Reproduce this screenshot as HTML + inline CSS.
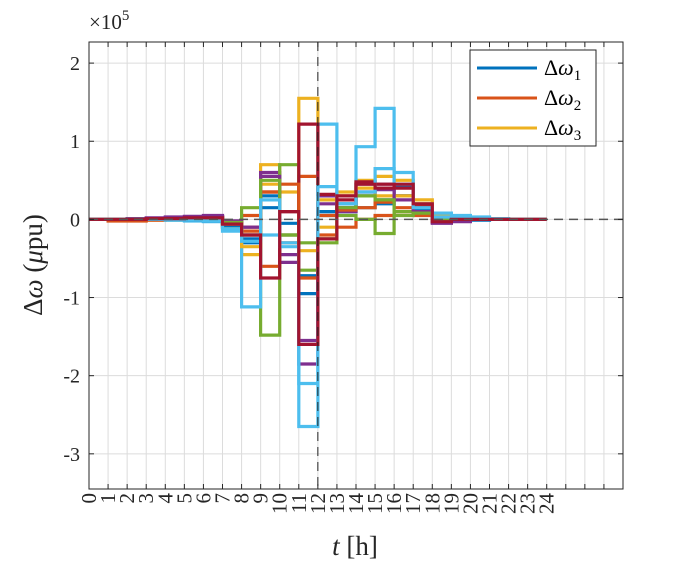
<!DOCTYPE html>
<html><head><meta charset="utf-8"><style>
body{margin:0;background:#fff;}
svg{display:block;font-family:"Liberation Serif","DejaVu Serif",serif;}
</style></head><body>
<svg id="chart" width="688" height="563"></svg>
<script>
const hours = [0,1,2,3,4,5,6,7,8,9,10,11,12,13,14,15,16,17,18,19,20,21,22,23];
const yTicks = [-3,-2,-1,0,1,2];
const yTickLabels = ["-3","-2","-1","0","1","2"];
const xTicks = [0,1,2,3,4,5,6,7,8,9,10,11,12,13,14,15,16,17,18,19,20,21,22,23,24,25,26,27,28];
const xTickLabels = ["0","1","2","3","4","5","6","7","8","9","10","11","12","13","14","15","16","17","18","19","20","21","22","23","24"];
const seriesColors = ["#0072BD","#D95319","#EDB120","#7E2F8E","#77AC30","#4DBEEE","#A2142F","#0072BD","#D95319","#EDB120","#7E2F8E","#77AC30","#4DBEEE","#A2142F"];
const s1 = [0,0,0,0.01,0.02,0.02,0.03,-0.1,-0.3,0.15,-0.05,-0.72,0.05,0.1,0.3,0.2,0.42,0.15,0,-0.02,-0.01,0,0,0];
const s2 = [0,-0.01,-0.01,0,0.01,0.02,0.03,-0.05,0.05,-0.6,-0.3,0.55,-0.2,-0.1,0,0.05,0.1,0.05,0,0,0,0,0,0];
const s3 = [0,0,0,-0.01,-0.01,0,0.01,-0.1,-0.45,0.7,0.35,1.55,-0.1,0.35,0.5,0.55,0.5,0.25,0.05,0.03,0.02,0.01,0,0];
const s4 = [0,0,0.01,0.02,0.03,0.04,0.05,-0.02,-0.2,0.6,-0.45,-1.85,0.3,0.1,0.45,0.45,0.3,0.15,-0.05,-0.03,0,0,0,0];
const s5 = [0,0,0,0,0.01,0.01,0.02,-0.05,0.15,-1.48,0.7,-0.3,-0.3,0.05,0,-0.18,0.1,0.1,0,0,0,0,0,0];
const s6 = [0,0,0,0,-0.01,-0.02,-0.03,-0.15,-1.12,-0.2,-0.3,-2.65,1.22,0.15,0.93,1.42,0.6,0.2,0.08,0.05,0.03,0.01,0,0];
const s7 = [0,0,0,0.01,0.01,0.02,0.03,-0.05,-0.1,0.35,0.1,1.22,0.32,0.25,0.48,0.45,0.4,0.18,-0.02,0,0,0,0,0];
const s8 = [0,0,0,0,0,-0.01,-0.02,-0.08,-0.25,0.3,-0.2,-0.95,0.1,0.2,0.15,0.25,0.3,0.12,0,0,0,0,0,0];
const s9 = [0,-0.02,-0.02,-0.01,0,0.01,0.02,-0.03,-0.15,0.35,0.45,-0.75,0.05,0.12,0.15,0.22,0.15,0.1,0.02,0,0,0,0,0];
const s10 = [0,0,0,0,0,0,0,-0.06,-0.35,0.45,-0.2,-0.4,0.25,0.3,0.4,0.3,0.3,0.2,0.02,0.01,0,0,0,0];
const s11 = [0,0,0,0.01,0.02,0.03,0.04,-0.02,-0.1,0.55,-0.55,-1.55,0.2,0.15,0.35,0.38,0.25,0.1,-0.04,-0.02,0,0,0,0];
const s12 = [0,0,0,0,0,0,0.01,-0.04,-0.2,0.5,-0.2,-0.65,-0.25,0.15,0.3,0.25,0.05,0.08,0,0,0,0,0,0];
const s13 = [0,0,0,0,-0.01,-0.01,-0.02,-0.12,-0.28,0.25,-0.35,-2.1,0.42,0.2,0.35,0.65,0.45,0.15,0.03,0.02,0.01,0,0,0];
const s14 = [0,0,0,0.01,0.01,0.02,0.02,-0.06,-0.2,-0.75,0.1,-1.6,-0.25,0.3,0.45,0.4,0.45,0.2,-0.03,0,0,0,0,0];
const allSeries = [s1,s2,s3,s4,s5,s6,s7,s8,s9,s10,s11,s12,s13,s14];

const L=89,R=623,T=42,B=489;
const xMin=0,xMax=28,yMin=-3.45,yMax=2.27;
function X(v){return L+(v-xMin)/(xMax-xMin)*(R-L);}
function Y(v){return T+(yMax-v)/(yMax-yMin)*(B-T);}
const NS="http://www.w3.org/2000/svg";
const svg=document.getElementById('chart');
function mk(tag,attrs,parent){const e=document.createElementNS(NS,tag);for(const k in attrs)e.setAttribute(k,attrs[k]);(parent||svg).appendChild(e);return e;}

const grid=mk('g',{});


xTicks.forEach(t=>{mk('line',{x1:X(t),x2:X(t),y1:T,y2:B,stroke:'#dcdcdc','stroke-width':1},grid);});
yTicks.forEach(t=>{mk('line',{x1:L,x2:R,y1:Y(t),y2:Y(t),stroke:'#dcdcdc','stroke-width':1},grid);});

const lines=mk('g',{});


allSeries.forEach((s,i)=>{
  let d='';
  s.forEach((v,h)=>{
    const x0=X(hours[h]),x1=X(hours[h]+1),y=Y(v);
    d+=(h===0?'M':'L')+x0.toFixed(1)+','+y.toFixed(1)+'L'+x1.toFixed(1)+','+y.toFixed(1);
  });
  const p=mk('path',{d:d,fill:'none',stroke:seriesColors[i],'stroke-width':3.2,'stroke-linejoin':'miter'},lines);
  
  
});

const zl=mk('line',{x1:L,x2:R,y1:Y(0),y2:Y(0),stroke:'#555','stroke-width':1.5,'stroke-dasharray':'9,6'});


const vl=mk('line',{x1:X(12),x2:X(12),y1:T,y2:B,stroke:'#222','stroke-width':1,'stroke-dasharray':'9,6'});



const box=mk('rect',{x:L,y:T,width:R-L,height:B-T,fill:'none',stroke:'#262626','stroke-width':1});



xTicks.forEach(t=>{
  mk('line',{x1:X(t),x2:X(t),y1:B,y2:B-5,stroke:'#262626'});
  mk('line',{x1:X(t),x2:X(t),y1:T,y2:T+5,stroke:'#262626'});
});
yTicks.forEach(t=>{
  mk('line',{x1:L,x2:L+5,y1:Y(t),y2:Y(t),stroke:'#262626'});
  mk('line',{x1:R,x2:R-5,y1:Y(t),y2:Y(t),stroke:'#262626'});
});
xTickLabels.forEach((lab,i)=>{
  const x=X(xTicks[i]);
  const t=mk('text',{x:0,y:0,transform:`translate(${x+7},${B+4}) rotate(-90)`,'text-anchor':'end','font-size':21,fill:'#262626'});
  t.textContent=lab;
  
  
});
yTickLabels.forEach((lab,i)=>{
  const t=mk('text',{x:L-9,y:Y(yTicks[i])+7,'text-anchor':'end','font-size':20,fill:'#262626'});
  t.textContent=lab;
  
  
});

const ex=mk('text',{x:89,y:29,'font-size':21,fill:'#262626'});
ex.innerHTML='×10<tspan dy="-9" font-size="15">5</tspan>';


const yl=mk('text',{x:0,y:0,transform:'translate(42,265) rotate(-90)','text-anchor':'middle','font-size':27,fill:'#262626'});
yl.innerHTML='Δ<tspan font-style="italic">ω</tspan> (<tspan font-style="italic">μ</tspan>pu)';


const xl=mk('text',{x:355,y:555,'text-anchor':'middle','font-size':27,fill:'#262626'});
xl.innerHTML='<tspan font-style="italic">t</tspan> [h]';


const lg=mk('g',{});


mk('rect',{x:470,y:50,width:126,height:96,fill:'#fff',stroke:'#262626','stroke-width':1},lg);
const cols=['#0072BD','#D95319','#EDB120'];
[0,1,2].forEach(i=>{
  const y=68+i*30;
  const g=mk('g',{},lg);
  
  
  mk('line',{x1:477,x2:537,y1:y,y2:y,stroke:cols[i],'stroke-width':3},g);
  const t=mk('text',{x:544,y:y+7,'font-size':22,fill:'#000'},g);
  t.innerHTML='Δ<tspan font-style="italic">ω</tspan><tspan dy="5" font-size="15">'+(i+1)+'</tspan>';
});
</script>
</body></html>
